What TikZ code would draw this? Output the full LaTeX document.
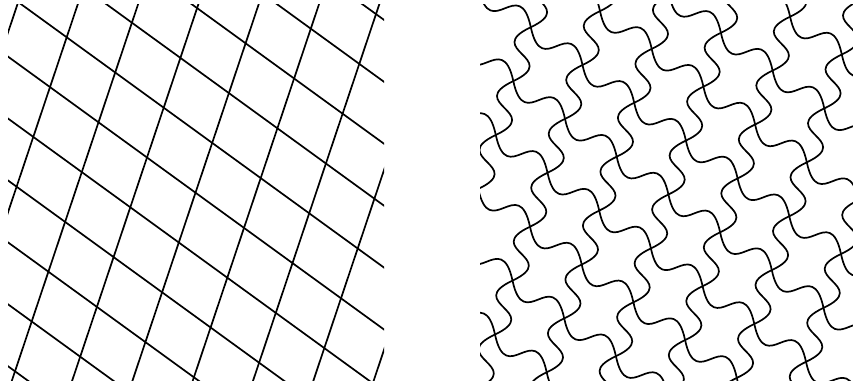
\documentclass[tikz,border=0pt]{standalone}
\begin{document}
\begin{tikzpicture}[x=1pt,y=1pt,line width=1.7pt]
\useasboundingbox (0,0) rectangle (853,385);
% straight lattice
\begin{scope}
\clip (8,4.3) rectangle (384,380);
\begin{scope}[cm={48.5,-35.2,16.7,49.8,(66.7,347.7)}]
\foreach \k in {-8,...,9}{\draw (\k,-9)--(\k,7);\draw (-4,\k)--(10,\k);}
\end{scope}
\end{scope}
% wavy lattice
\begin{scope}
\clip (480,4.3) rectangle (853,380);
\begin{scope}[cm={51.7,-37.8,17.5,53.9,(616.7,228.3)}]
\foreach \i in {-4,...,6}{\foreach \j in {-6,...,6}{
\draw (\i,\j) .. controls +(.45,-.68) and +(-.45,.68) .. (\i+1,\j);
\draw (\i,\j) .. controls +(.64,.87) and +(-.64,-.87) .. (\i,\j+1);}}
\end{scope}
\end{scope}
\end{tikzpicture}
\end{document}
